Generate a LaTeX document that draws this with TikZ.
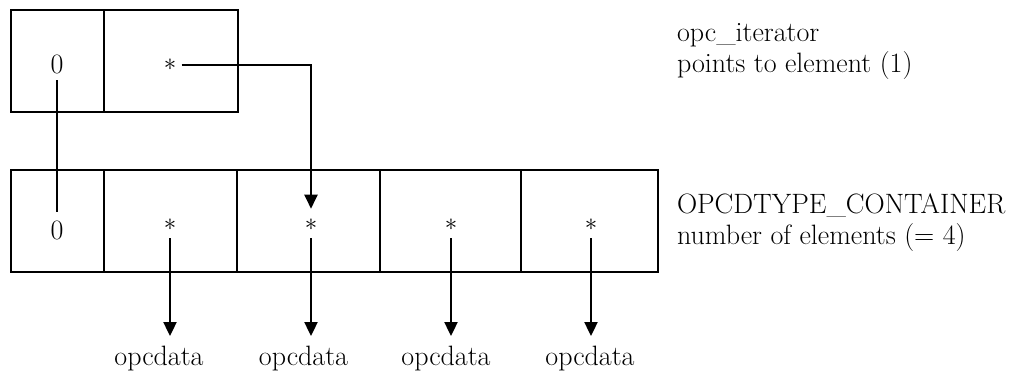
\documentclass[tikz,border=0pt]{standalone}
\usepackage{fontspec}
\usetikzlibrary{arrows.meta}
\begin{document}
\begin{tikzpicture}[x=1pt,y=-1pt,line width=2pt,
  cell/.style={draw,rectangle,inner sep=0pt,minimum height=102pt},
  val/.style={font=\fontsize{28}{31}\selectfont,inner sep=0pt},
  ptr/.style={inner sep=4.5pt},
  lbl/.style={font=\fontsize{28}{31}\selectfont,inner sep=0pt,anchor=base west},
  dat/.style={font=\fontsize{28}{31}\selectfont,inner sep=0pt,anchor=base},
  arr/.style={-{Triangle[width=13pt,length=14pt]}}]
\useasboundingbox (0,0) rectangle (1021,373);
% top record
\node[cell,minimum width=93pt] (t0) at (57.5,61) {};
\node[cell,minimum width=134pt] (t1) at (171,61) {};
% bottom record
\node[cell,minimum width=93pt] (b0) at (57.5,221) {};
\node[cell,minimum width=133pt] (b1) at (170.5,221) {};
\node[cell,minimum width=143pt] (b2) at (308.5,221) {};
\node[cell,minimum width=141pt] (b3) at (450.5,221) {};
\node[cell,minimum width=137pt] (b4) at (589.5,221) {};
% values
\node[val] (z0) at (57,64) {0};
\node[val] (z1) at (57,230) {0};
\node[ptr] (st) at (170,65) {\fontsize{26}{26}\selectfont$\ast$};
\node[ptr] (s1) at (170,225) {\fontsize{26}{26}\selectfont$\ast$};
\node[ptr] (s2) at (311,225) {\fontsize{26}{26}\selectfont$\ast$};
\node[ptr] (s3) at (451,225) {\fontsize{26}{26}\selectfont$\ast$};
\node[ptr] (s4) at (591,225) {\fontsize{26}{26}\selectfont$\ast$};
% data labels
\node[dat] (d1) at (159,365) {opcdata};
\node[dat] (d2) at (303.5,365) {opcdata};
\node[dat] (d3) at (446,365) {opcdata};
\node[dat] (d4) at (590,365) {opcdata};
% side labels
\node[lbl] (it) at (676,41) {opc\_iterator};
\node[lbl] (ip) at (676,72) {points to element (1)};
\node[lbl] (ct) at (676,213) {OPCDTYPE\_CONTAINER};
\node[lbl] (cn) at (676,244) {number of elements (= 4)};
% connectors
\coordinate (zt) at (57,212);
\draw ([yshift=-6pt]z0.south) -- (zt);
\draw[arr,shorten >=5pt] (st.east) -| (s2.north);
\foreach \i in {1,2,3,4}{
  \draw[arr,shorten >=8.5pt] ([yshift=-2pt]s\i.south) -- (s\i.south |- d\i.north);
}
\end{tikzpicture}
\end{document}
